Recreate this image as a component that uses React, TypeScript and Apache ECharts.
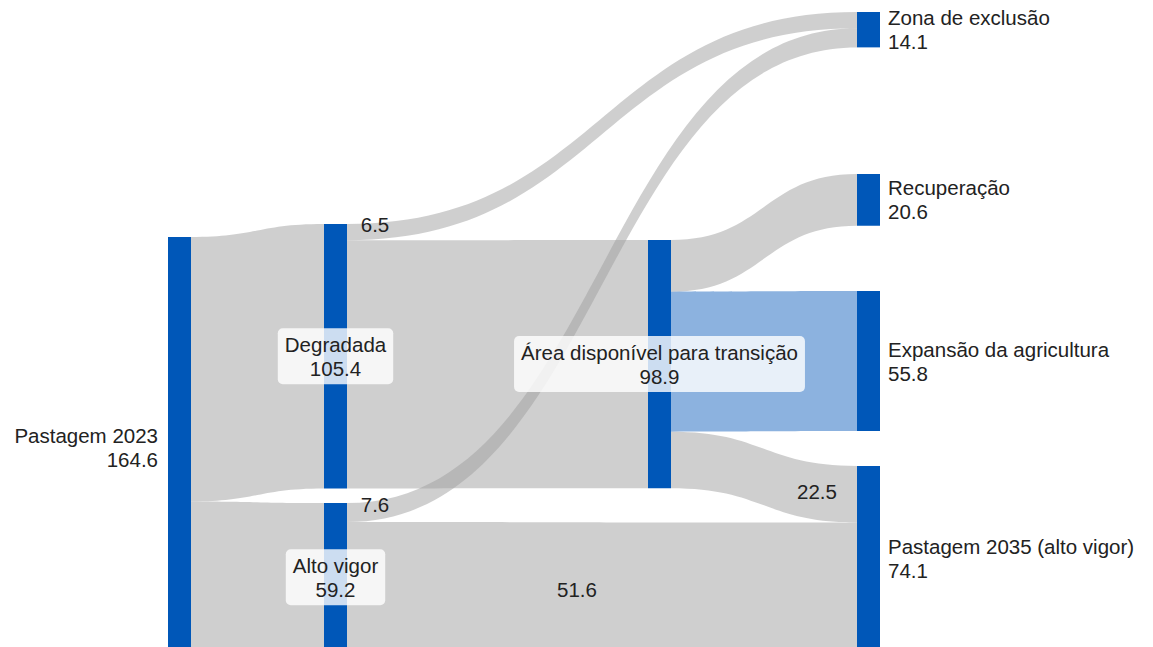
import React, { useEffect, useRef } from 'react';
import * as echarts from 'echarts';

// ---- Data ----
const nodeNames = [
  'Pastagem 2023',
  'Degradada',
  'Alto vigor',
  'Área disponível para transição',
  'Zona de exclusão',
  'Recuperação',
  'Expansão da agricultura',
  'Pastagem 2035 (alto vigor)',
];
const nodeValues = [164.6, 105.4, 59.2, 98.9, 14.1, 20.6, 55.8, 74.1];

const linkSources = [
  'Pastagem 2023',
  'Pastagem 2023',
  'Degradada',
  'Degradada',
  'Alto vigor',
  'Alto vigor',
  'Área disponível para transição',
  'Área disponível para transição',
  'Área disponível para transição',
];
const linkTargets = [
  'Degradada',
  'Alto vigor',
  'Zona de exclusão',
  'Área disponível para transição',
  'Zona de exclusão',
  'Pastagem 2035 (alto vigor)',
  'Recuperação',
  'Expansão da agricultura',
  'Pastagem 2035 (alto vigor)',
];
const linkValues = [105.4, 59.2, 6.5, 98.9, 7.6, 51.6, 20.6, 55.8, 22.5];

// ---- Layout / style (not data) ----
const W = 1153;
const H = 647;
const FONT = 'Arial, "Liberation Sans", Helvetica, sans-serif';
const FONT_SIZE = 20.5;
const TEXT = '#222222';
const NODE_COLOR = '#0057b8';

// depth, left px, top px, label placement
const nodeLayout: Record<string, { depth: number; x: number; y: number; pos: string }> = {
  'Pastagem 2023': { depth: 0, x: 168, y: 237, pos: 'left' },
  'Degradada': { depth: 1, x: 324, y: 224, pos: 'inside' },
  'Alto vigor': { depth: 1, x: 324, y: 503, pos: 'inside' },
  'Área disponível para transição': { depth: 2, x: 648, y: 240, pos: 'inside' },
  'Zona de exclusão': { depth: 3, x: 857, y: 12, pos: 'right' },
  'Recuperação': { depth: 3, x: 857, y: 174, pos: 'right' },
  'Expansão da agricultura': { depth: 3, x: 857, y: 291, pos: 'right' },
  'Pastagem 2035 (alto vigor)': { depth: 3, x: 857, y: 466, pos: 'right' },
};

// which link labels are shown and their offsets from the link's box centre
const edgeLabelOffsets: Record<number, [number, number]> = {
  2: [-227, 98],
  4: [-227, 229],
  5: [-25, 3],
  8: [53, 14],
};
const highlightLink = 7;

function nodeLabel(pos: string) {
  const base = {
    show: true,
    fontFamily: FONT,
    fontSize: FONT_SIZE,
    lineHeight: 24,
    color: TEXT,
    formatter: (p: any) => `${p.name}\n${p.value}`,
  };
  if (pos === 'inside') {
    return {
      ...base,
      position: 'inside',
      align: 'center',
      verticalAlign: 'middle',
      backgroundColor: 'rgba(255,255,255,0.8)',
      borderRadius: 5,
      padding: [4, 7, 4, 7],
    };
  }
  if (pos === 'left') {
    return { ...base, position: 'left', distance: 10, align: 'right', offset: [0, 4] };
  }
  return { ...base, position: 'right', distance: 8, align: 'left' };
}

export default function App() {
  const ref = useRef<HTMLDivElement>(null);
  useEffect(() => {
    if (!ref.current) return;
    const chart = echarts.init(ref.current, null, { renderer: 'svg' });

    const nodes = nodeNames.map((name, i) => {
      const l = nodeLayout[name];
      return {
        name,
        value: nodeValues[i],
        depth: l.depth,
        localX: l.x / W,
        localY: l.y / H,
        label: nodeLabel(l.pos),
      };
    });

    const links = linkSources.map((s, i) => {
      const off = edgeLabelOffsets[i];
      const item: any = {
        source: s,
        target: linkTargets[i],
        value: linkValues[i],
      };
      if (off) {
        item.edgeLabel = { show: true, offset: off };
      }
      if (i === highlightLink) {
        item.lineStyle = { color: '#1a66c0', opacity: 0.5 };
      }
      return item;
    });

    chart.setOption({
      animation: false,
      backgroundColor: '#ffffff',
      series: [
        {
          type: 'sankey',
          left: 0,
          top: 0,
          width: W,
          height: H,
          nodeWidth: 23,
          nodeGap: 78,
          layoutIterations: 0,
          nodeAlign: 'justify',
          draggable: false,
          emphasis: { disabled: true },
          itemStyle: { color: NODE_COLOR, borderWidth: 0, opacity: 1 },
          lineStyle: { color: '#a0a0a0', opacity: 0.5, curveness: 0.5 },
          label: { show: true, fontFamily: FONT, fontSize: FONT_SIZE, color: TEXT },
          edgeLabel: {
            show: false,
            fontFamily: FONT,
            fontSize: FONT_SIZE,
            color: TEXT,
            formatter: (p: any) => `${p.value}`,
          },
          data: nodes,
          links,
        },
      ],
    });

    return () => chart.dispose();
  }, []);

  return (
    <div
      ref={ref}
      style={{ position: 'absolute', left: 0, top: 0, width: W, height: H }}
    />
  );
}
